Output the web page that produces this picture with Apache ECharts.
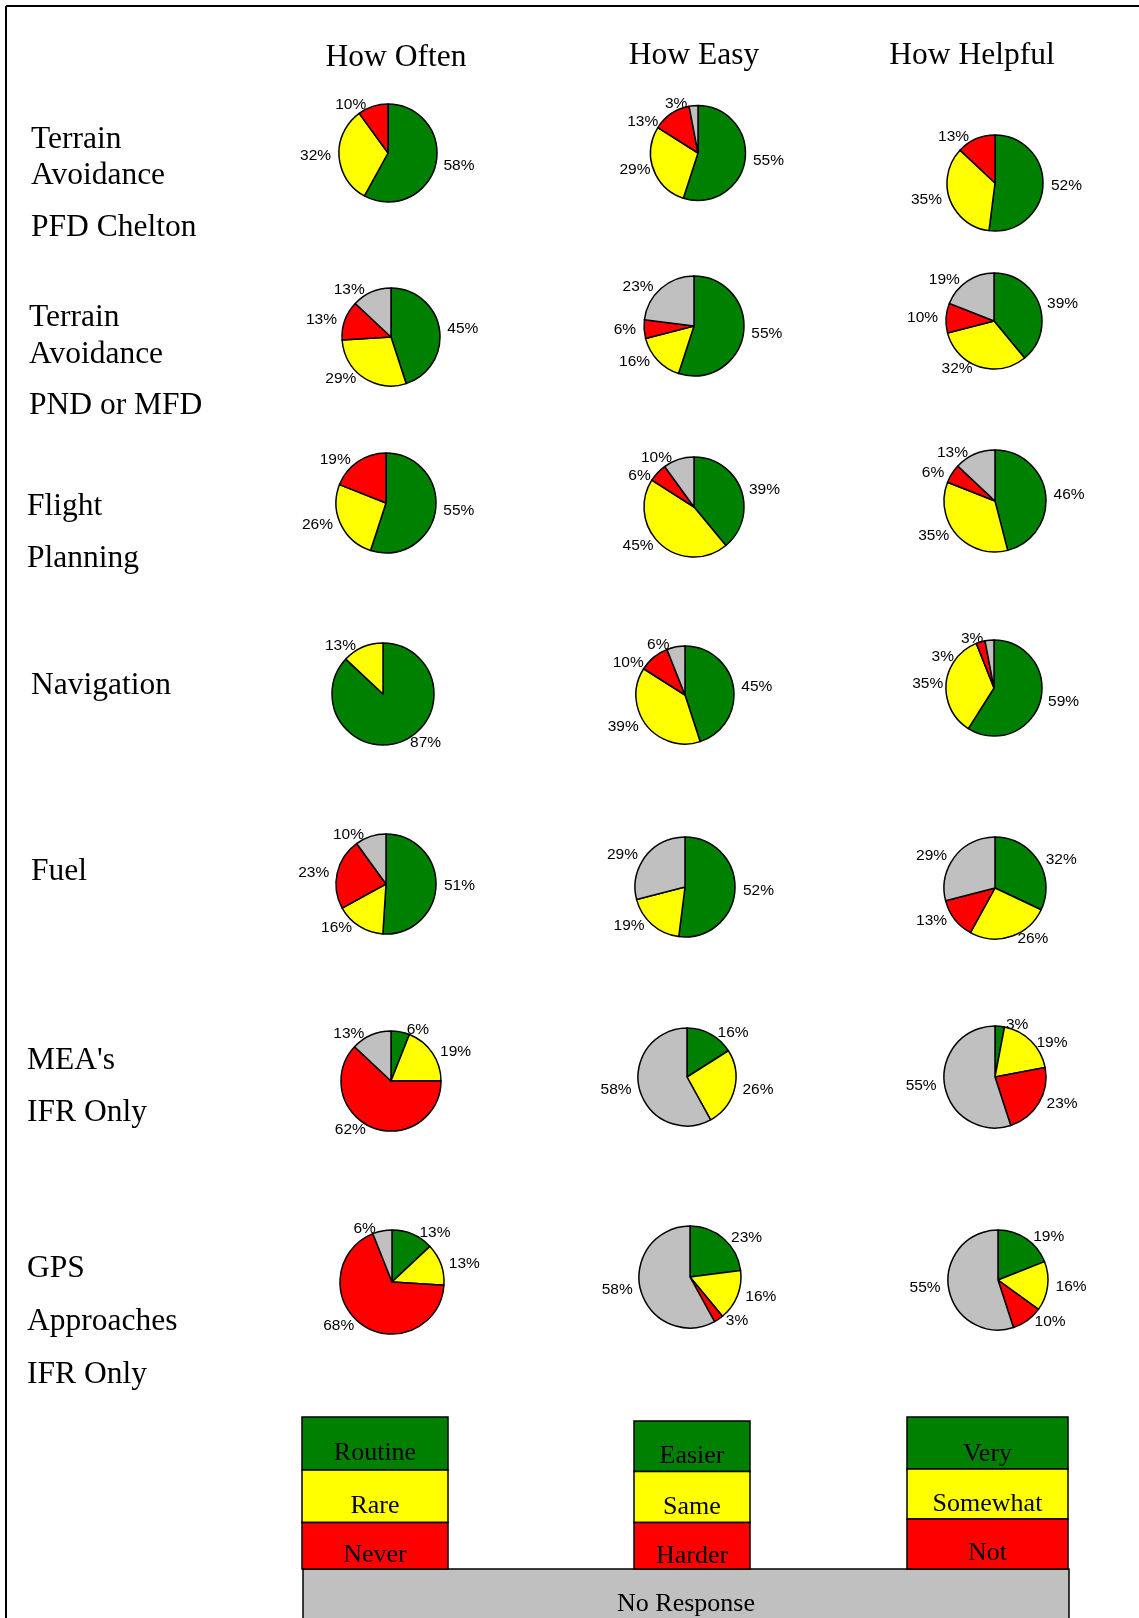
<!DOCTYPE html>
<html><head><meta charset="utf-8">
<script src="https://cdn.jsdelivr.net/npm/echarts@6/dist/echarts.min.js"></script>
<style>html,body{margin:0;padding:0;background:#fff}#c{width:1139px;height:1618px}</style>
</head><body><div id="c"></div>
<script>
// ---- data ----
const columnTitles = ['How Often', 'How Easy', 'How Helpful'];
const rowLabels = [
  ['Terrain', 'Avoidance', 'PFD Chelton'],
  ['Terrain', 'Avoidance', 'PND or MFD'],
  ['Flight', 'Planning'],
  ['Navigation'],
  ['Fuel'],
  ["MEA's", 'IFR Only'],
  ['GPS', 'Approaches', 'IFR Only']
];
// slice order (clockwise from 12 o'clock): green, yellow, red, gray
const howOften = [
  [58, 32, 10, 0],
  [45, 29, 13, 13],
  [55, 26, 19, 0],
  [87, 13, 0, 0],
  [51, 16, 23, 10],
  [6, 19, 62, 13],
  [13, 13, 68, 6]
];
const howEasy = [
  [55, 29, 13, 3],
  [55, 16, 6, 23],
  [39, 45, 6, 10],
  [45, 39, 10, 6],
  [52, 19, 0, 29],
  [16, 26, 0, 58],
  [23, 16, 3, 58]
];
const howHelpful = [
  [52, 35, 13, 0],
  [39, 32, 10, 19],
  [46, 35, 6, 13],
  [59, 35, 3, 3],
  [32, 26, 13, 29],
  [3, 19, 23, 55],
  [19, 16, 10, 55]
];
const oftenLegend = ['Routine', 'Rare', 'Never'];
const easyLegend = ['Easier', 'Same', 'Harder'];
const helpfulLegend = ['Very', 'Somewhat', 'Not'];
const noResponseLabel = 'No Response';

// ---- styles / layout ----
const sliceColors = ['#008000', '#FFFF00', '#FF0000', '#C0C0C0'];
const serif = '"Liberation Serif","Times New Roman",serif';
const sans = '"Liberation Sans",Arial,sans-serif';

// pie [cx, cy, r] per column / row
const pieLayout = [
  [[388,153,49],[391,337,49],[386,503,50],[383,694,51],[386,884,50],[391,1081,50],[392,1282,52]],
  [[698,153,47.5],[694,326,50],[694,507,50],[685,695,49],[685,887,50],[687,1077,49],[690,1277,51]],
  [[995,183,48],[994,321,48],[995,501,51],[994,688,48],[995,888,51],[995,1077,51],[998,1280,50]]
];
const titlePos = [[396,58],[694,56],[972,56]];
const rowLabelPos = [
  [31,[140,176,228]],
  [29,[318,355,406]],
  [27,[507,559]],
  [31,[686]],
  [31,[872]],
  [27,[1061,1113]],
  [27,[1269,1322,1375]]
];
// legend boxes: x0, x1, [y edges], text y centers
const legendLayout = [
  {x0:302, x1:448, ys:[1417,1470,1522.5,1569], ty:[1453,1506,1555]},
  {x0:634, x1:750, ys:[1421,1471.5,1522.5,1569], ty:[1456,1507,1556]},
  {x0:907, x1:1068, ys:[1417,1469,1519,1569], ty:[1454,1504,1553]}
];
const noRespBox = {x0:303, x1:1069, y0:1569, y1:1640, ty:1604};

const datasets = [howOften, howEasy, howHelpful];
const legends = [oftenLegend, easyLegend, helpfulLegend];

const series = [];
datasets.forEach((ds, ci) => {
  ds.forEach((vals, ri) => {
    const [cx, cy, r] = pieLayout[ci][ri];
    const data = [];
    vals.forEach((v, k) => {
      if (v > 0) data.push({value: v, name: String(k), itemStyle: {color: sliceColors[k]}});
    });
    series.push({
      type: 'pie',
      center: [cx, cy],
      radius: [0, r],
      startAngle: 90,
      clockwise: true,
      animation: false,
      silent: true,
      avoidLabelOverlap: true,
      itemStyle: {borderColor: '#000', borderWidth: 1.5},
      label: {
        show: true, position: 'outside', formatter: '{c}%',
        fontFamily: sans, fontSize: 15.5, color: '#000'
      },
      labelLine: {show: false, length: 2, length2: 1},
      data: data
    });
  });
});

const graphics = [];
// frame
graphics.push({type:'line', shape:{x1:6, y1:6, x2:1139, y2:6}, style:{stroke:'#000', lineWidth:2}});
graphics.push({type:'line', shape:{x1:6, y1:6, x2:6, y2:1618}, style:{stroke:'#000', lineWidth:2}});
// column titles
columnTitles.forEach((t, i) => {
  graphics.push({type:'text', x:titlePos[i][0], y:titlePos[i][1],
    style:{text:t, font:'31.5px ' + serif, fill:'#000', textAlign:'center', textVerticalAlign:'middle'}});
});
// row labels
rowLabels.forEach((lines, ri) => {
  const [x, ys] = rowLabelPos[ri];
  lines.forEach((t, li) => {
    graphics.push({type:'text', x:x, y:ys[li],
      style:{text:t, font:'31.5px ' + serif, fill:'#000', textAlign:'left', textVerticalAlign:'middle'}});
  });
});
// no response box
graphics.push({type:'rect', shape:{x:noRespBox.x0, y:noRespBox.y0, width:noRespBox.x1-noRespBox.x0, height:noRespBox.y1-noRespBox.y0},
  style:{fill:sliceColors[3], stroke:'#000', lineWidth:1.5}});
graphics.push({type:'text', x:(noRespBox.x0+noRespBox.x1)/2 , y:noRespBox.ty,
  style:{text:noResponseLabel, font:'26px ' + serif, fill:'#000', textAlign:'center', textVerticalAlign:'middle'}, z:10});
// legend boxes
legends.forEach((names, ci) => {
  const L = legendLayout[ci];
  names.forEach((n, k) => {
    graphics.push({type:'rect', shape:{x:L.x0, y:L.ys[k], width:L.x1-L.x0, height:L.ys[k+1]-L.ys[k]},
      style:{fill:sliceColors[k], stroke:'#000', lineWidth:1.5}});
    graphics.push({type:'text', x:(L.x0+L.x1)/2, y:L.ty[k],
      style:{text:n, font:'26px ' + serif, fill:'#000', textAlign:'center', textVerticalAlign:'middle'}, z:10});
  });
});

const chart = echarts.init(document.getElementById('c'), null, {renderer:'canvas'});
chart.setOption({
  animation: false,
  backgroundColor: '#fff',
  series: series,
  graphic: {elements: graphics}
});
</script>
</body></html>
